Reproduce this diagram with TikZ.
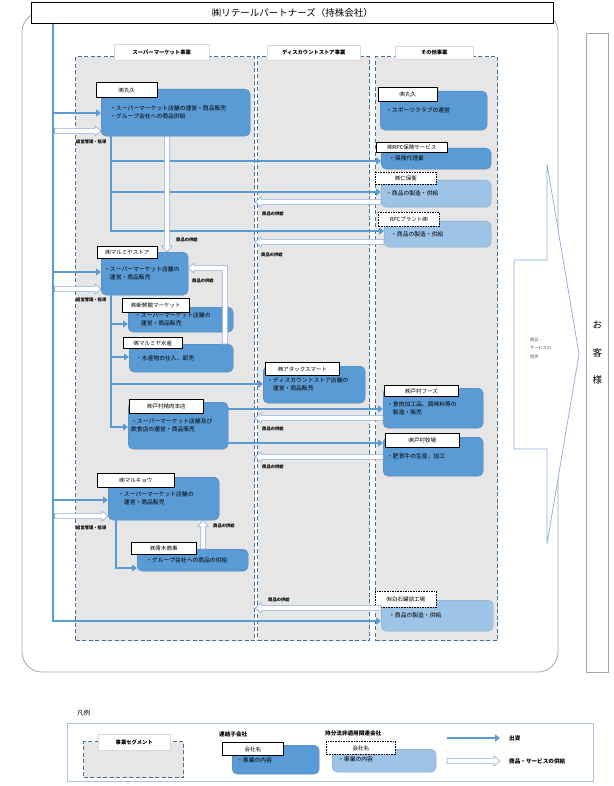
\documentclass[tikz,border=0pt]{standalone}
\usepackage{fontspec}
\setmainfont{Noto Sans CJK JP}
\XeTeXlinebreaklocale "ja"
\usetikzlibrary{arrows.meta,calc}
\newcommand\fsz[2]{\fontsize{#1pt}{#2pt}\selectfont}
\definecolor{cblue}{HTML}{5B9BD5}
\definecolor{lblue}{HTML}{9DC3E6}
\definecolor{segfill}{HTML}{E6E6E6}
\definecolor{segline}{HTML}{41719C}
\definecolor{holc}{HTML}{8FAADC}
\definecolor{framec}{HTML}{A6A6A6}
\tikzset{
 seg/.style={fill=segfill, draw=segline, line width=1.1pt, dash pattern=on 4pt off 2.5pt, anchor=north west, inner sep=0pt},
 seghead/.style={fill=white, draw=black!15, line width=0.5pt, inner sep=0pt, anchor=north west, font=\fsz{5.3}{6}\bfseries},
 cbox/.style={fill=cblue, draw=cblue!85!black, line width=0.3pt, rounded corners=5pt, anchor=north west, align=left, inner ysep=0pt, font=\fsz{5.8}{7.8}},
 lbox/.style={cbox, fill=lblue, draw=lblue!85!black},
 lbl/.style={fill=white, draw=black, line width=0.9pt, anchor=north west, inner sep=0pt, font=\fsz{5.5}{6}},
 dlbl/.style={lbl, dash pattern=on 1.6pt off 1pt},
 bl/.style={draw=cblue, line width=2pt},
 barrow/.style={bl, -{Triangle[length=5pt,width=7pt]}},
 hollowp/.style={draw=holc, fill=white, line width=0.6pt},
 hollow/.style={hollowp, to path={
   ($(\tikztostart)!2.6pt!90:(\tikztotarget)$)
   -- ($($(\tikztotarget)!6pt!(\tikztostart)$)!2.6pt!90:(\tikztotarget)$)
   -- ($($(\tikztotarget)!6pt!(\tikztostart)$)!5pt!90:(\tikztotarget)$)
   -- (\tikztotarget)
   -- ($($(\tikztotarget)!6pt!(\tikztostart)$)!5pt!-90:(\tikztotarget)$)
   -- ($($(\tikztotarget)!6pt!(\tikztostart)$)!2.6pt!-90:(\tikztotarget)$)
   -- ($(\tikztostart)!2.6pt!-90:(\tikztotarget)$)
   -- cycle}},
 smalltxt/.style={font=\fsz{4.3}{5}\bfseries, anchor=west, inner sep=0pt},
 legtxt/.style={font=\fsz{5.6}{6}\bfseries, anchor=west, inner sep=0pt},
}
\begin{document}
\begin{tikzpicture}[x=1pt,y=-1pt]
\useasboundingbox (0,0) rectangle (613,786);
\fill[white] (0,0) rectangle (613,786);
% outer frame
\draw[draw=framec, line width=0.8pt, rounded corners=20pt] (22,12) rectangle (558,672);
\node[draw=black, line width=0.8pt, fill=white, anchor=north west, minimum width=522pt, minimum height=21pt, inner sep=0pt, font=\fsz{9.5}{11}] (title) at (31,2) {㈱リテールパートナーズ（持株会社）};
% customers
\node[draw=framec, line width=0.8pt, anchor=north west, minimum width=22pt, minimum height=639pt, inner sep=0pt, align=center, font=\fsz{9.5}{27.5}] (cust) at (586,33) {お\\客\\様};
% segments
\node[seg, minimum width=179pt, minimum height=584pt] (segsm) at (75,56) {};
\node[seg, minimum width=112pt, minimum height=584pt] (segds) at (257,56) {};
\node[seg, minimum width=122pt, minimum height=584pt] (segot) at (375,56) {};
\node[seghead, minimum width=95pt, minimum height=16pt] (hsm) at (114,44) {スーパーマーケット事業};
\node[seghead, minimum width=93pt, minimum height=15pt] (hds) at (267,45) {ディスカウントストア事業};
\node[seghead, minimum width=78pt, minimum height=13pt] (hot) at (395,46) {その他事業};
% big arrow
\draw[hollowp, line width=0.7pt] (514,260) -- (547,260) -- (547,164) -- (579,354) -- (547,544) -- (547,449) -- (514,449) -- cycle;
\node[anchor=west, align=left, font=\fsz{4.2}{8.5}, text=black!65, inner sep=0pt] (provide) at (530,348) {商品・\\サービスの\\提供};
% company boxes
\node[cbox, minimum height=47pt, text width=131pt, inner xsep=9pt] (mh) at (101,89) {・スーパーマーケット店舗の運営・商品販売\\・グループ会社への商品供給};
\node[cbox, minimum height=43pt, text width=81pt, inner xsep=3pt] (ms) at (101,252) {・スーパーマーケット店舗の\\\hspace*{1em}運営・商品販売};
\node[cbox, minimum height=25pt, text width=91pt, inner xsep=7pt] (sk) at (128,307) {・スーパーマーケット店舗の\\\hspace*{1em}運営・商品販売};
\node[cbox, minimum height=28pt, text width=90pt, inner xsep=7pt] (sui) at (129,344) {・水産物の仕入、卸売};
\node[cbox, minimum height=47pt, text width=94pt, inner xsep=3pt] (tsn) at (128,402) {・スーパーマーケット店舗及び\\飲食店の運営・商品販売};
\node[cbox, minimum height=43pt, text width=91pt, inner xsep=10pt] (mk) at (108,477) {・スーパーマーケット店舗の\\\hspace*{1em}運営・商品販売};
\node[cbox, minimum height=22pt, text width=93pt, inner xsep=9pt] (ao) at (137,549) {・グループ会社への商品の供給};
\node[cbox, minimum height=37pt, text width=94pt, inner xsep=4pt] (atk) at (263,366) {・ディスカウントストア店舗の\\\hspace*{1em}運営・商品販売};
\node[cbox, minimum height=39pt, text width=95pt, inner xsep=6pt] (mho) at (380,91) {・スポーツクラブの運営};
\node[cbox, minimum height=21pt, text width=94pt, inner xsep=8pt] (rhs) at (381,148) {・保険代理業};
\node[lbox, minimum height=27pt, text width=100pt, inner xsep=5pt] (nih) at (381,180) {・商品の製造・供給};
\node[lbox, minimum height=26pt, text width=93pt, inner xsep=7pt] (rpp) at (384,221) {・商品の製造・供給};
\node[cbox, minimum height=40pt, text width=92pt, inner xsep=4pt] (tf) at (383,388) {・食肉加工品、調味料等の\\\hspace*{1em}製造・販売};
\node[cbox, minimum height=39pt, text width=92pt, inner xsep=4pt] (tb) at (383,437) {・肥育牛の生産、加工\\[6pt]};
\node[lbox, minimum height=31pt, text width=96pt, inner xsep=8pt] (sh) at (381,600) {・商品の製造・供給};
% labels
\node[lbl, minimum width=61pt, minimum height=15pt] (lmh) at (96,82) {㈱丸久};
\node[lbl, minimum width=60pt, minimum height=12pt] (lms) at (97,246) {㈱マルミヤストア};
\node[lbl, minimum width=67pt, minimum height=14pt] (lsk) at (122,298) {㈱新鮮館マーケット};
\node[lbl, minimum width=59pt, minimum height=11pt] (lsui) at (123,337) {㈱マルミヤ水産};
\node[lbl, minimum width=74pt, minimum height=14pt] (ltsn) at (129,399) {㈱戸村精肉本店};
\node[lbl, minimum width=77pt, minimum height=14pt] (lmk) at (97,473) {㈱マルキョウ};
\node[lbl, minimum width=65pt, minimum height=12pt] (lao) at (131,542) {㈱青木商事};
\node[lbl, minimum width=74pt, minimum height=13pt] (latk) at (265,362) {㈱アタックスマート};
\node[lbl, minimum width=59pt, minimum height=14pt] (lmho) at (378,87) {㈱丸久};
\node[lbl, minimum width=71pt, minimum height=10pt] (lrhs) at (376,142) {㈱RPC保険サービス};
\node[dlbl, minimum width=61pt, minimum height=12pt] (lnih) at (375,172) {㈱仁保衛};
\node[dlbl, minimum width=61pt, minimum height=14pt] (lrpp) at (378,212) {RPCプラント㈱};
\node[lbl, minimum width=74pt, minimum height=11pt] (ltf) at (384,385) {㈱戸村フーズ};
\node[lbl, minimum width=74pt, minimum height=14pt] (ltb) at (385,433) {㈱戸村牧場};
\node[dlbl, minimum width=61pt, minimum height=16pt] (lsh) at (375,591) {㈲白石罐詰工場};
% trunk and investment arrows
\coordinate (tr0) at (title.south -| 53,0);
\draw[barrow] (tr0) |- (sh.west |- 0,621);
\draw[barrow] (53,113) -- (mh.west |- 0,113);
\draw[barrow] (53,272) -- (ms.west |- 0,272);
\draw[barrow] (53,500) -- (mk.west |- 0,500);
\draw[barrow] (mh.south -| 111,0) |- (rpp.west |- 0,231);
\draw[barrow] (111,161) -- (rhs.west |- 0,161);
\draw[barrow] (111,192) -- (nih.west |- 0,192);
\draw[barrow] (ms.south -| 111,0) |- (tsn.west |- 0,427);
\draw[barrow] (111,324) -- (sk.west |- 0,324);
\draw[barrow] (111,357) -- (sui.west |- 0,357);
\draw[barrow] (111,384) -- (atk.west |- 0,384);
\draw[barrow] (tsn.east |- 0,409) -- (tf.west |- 0,409);
\draw[barrow] (tsn.east |- 0,443) -- (tb.west |- 0,443);
\draw[barrow] (mk.south -| 116,0) |- (ao.west |- 0,568);
% supply arrows
\draw[hollow] (54.5,131) to (mh.west |- 0,131);
\draw[hollow] (54.5,289) to (ms.west |- 0,289);
\draw[hollow] (54.5,516) to (mk.west |- 0,516);
\draw[hollow] (mh.south -| 167,0) to (ms.north -| 167,0);
\draw[hollow] (nih.west |- 0,202) to (segsm.east |- 0,202);
\draw[hollow] (rpp.west |- 0,242) to (segsm.east |- 0,242);
\draw[hollow] (tf.west |- 0,418) to (segsm.east |- 0,418);
\draw[hollow] (tb.west |- 0,457) to (segsm.east |- 0,457);
\draw[hollow] (sh.west |- 0,608) to (segsm.east |- 0,608);
\draw[hollow] (ao.north -| 203,0) to (mk.south -| 203,0);
\draw[hollowp] (sui.north -| 222.4,0) -- (222.4,270.6) -- (194,270.6) -- (194,273) -- (ms.east |- 0,268) -- (194,263) -- (194,265.4) -- (227.6,265.4) -- (sui.north -| 227.6,0) -- cycle;
% small labels
\node[smalltxt] (g1) at (76,142) {経営管理・指導};
\node[smalltxt] (g2) at (76,300) {経営管理・指導};
\node[smalltxt] (g3) at (76,528) {経営管理・指導};
\node[smalltxt] (s1) at (176,240) {商品の供給};
\node[smalltxt] (s2) at (192,281) {商品の供給};
\node[smalltxt] (s3) at (262,214) {商品の供給};
\node[smalltxt] (s4) at (261,255) {商品の供給};
\node[smalltxt] (s5) at (262,429) {商品の供給};
\node[smalltxt] (s6) at (262,467) {商品の供給};
\node[smalltxt] (s7) at (268,600) {商品の供給};
\node[smalltxt] (s8) at (213,526) {商品の供給};
% legend
\node[font=\fsz{6.5}{7}, anchor=west, inner sep=0pt] (lgt) at (77,713) {凡例};
\node[draw=holc!70, line width=0.8pt, anchor=north west, minimum width=526pt, minimum height=58pt, inner sep=0pt] (lgframe) at (67,723) {};
\node[seg, minimum width=100pt, minimum height=36pt] (lgseg) at (83,741) {};
\node[seghead, minimum width=72pt, minimum height=16pt] (lgsegh) at (98,734) {事業セグメント};
\node[legtxt] (lgsub) at (219,734) {連結子会社};
\node[cbox, minimum height=29pt, text width=77pt, inner xsep=5pt] (lgcb) at (232,745) {\\[-2pt]・事業の内容};
\node[lbl, minimum width=61pt, minimum height=13pt] (lgcl) at (222,742) {会社名};
\node[legtxt] (lgaff) at (325,733) {持分法非適用関連会社};
\node[lbox, minimum height=23pt, text width=92pt, inner xsep=6pt] (lglb) at (332,749) {\\[-5pt]・事業の内容};
\node[dlbl, minimum width=69pt, minimum height=13pt] (lgdl) at (326,741) {会社名};
\coordinate (lga1) at (447,738);
\coordinate (lga2) at (500,738);
\draw[barrow] (lga1) -- (lga2);
\node[legtxt] (lgcap) at (509,738) {出資};
\coordinate (lgh1) at (447,761);
\coordinate (lgh2) at (500,761);
\draw[hollow] (lgh1) to (lgh2);
\node[legtxt] (lgsup) at (509,761) {商品・サービスの供給};
\end{tikzpicture}
\end{document}
